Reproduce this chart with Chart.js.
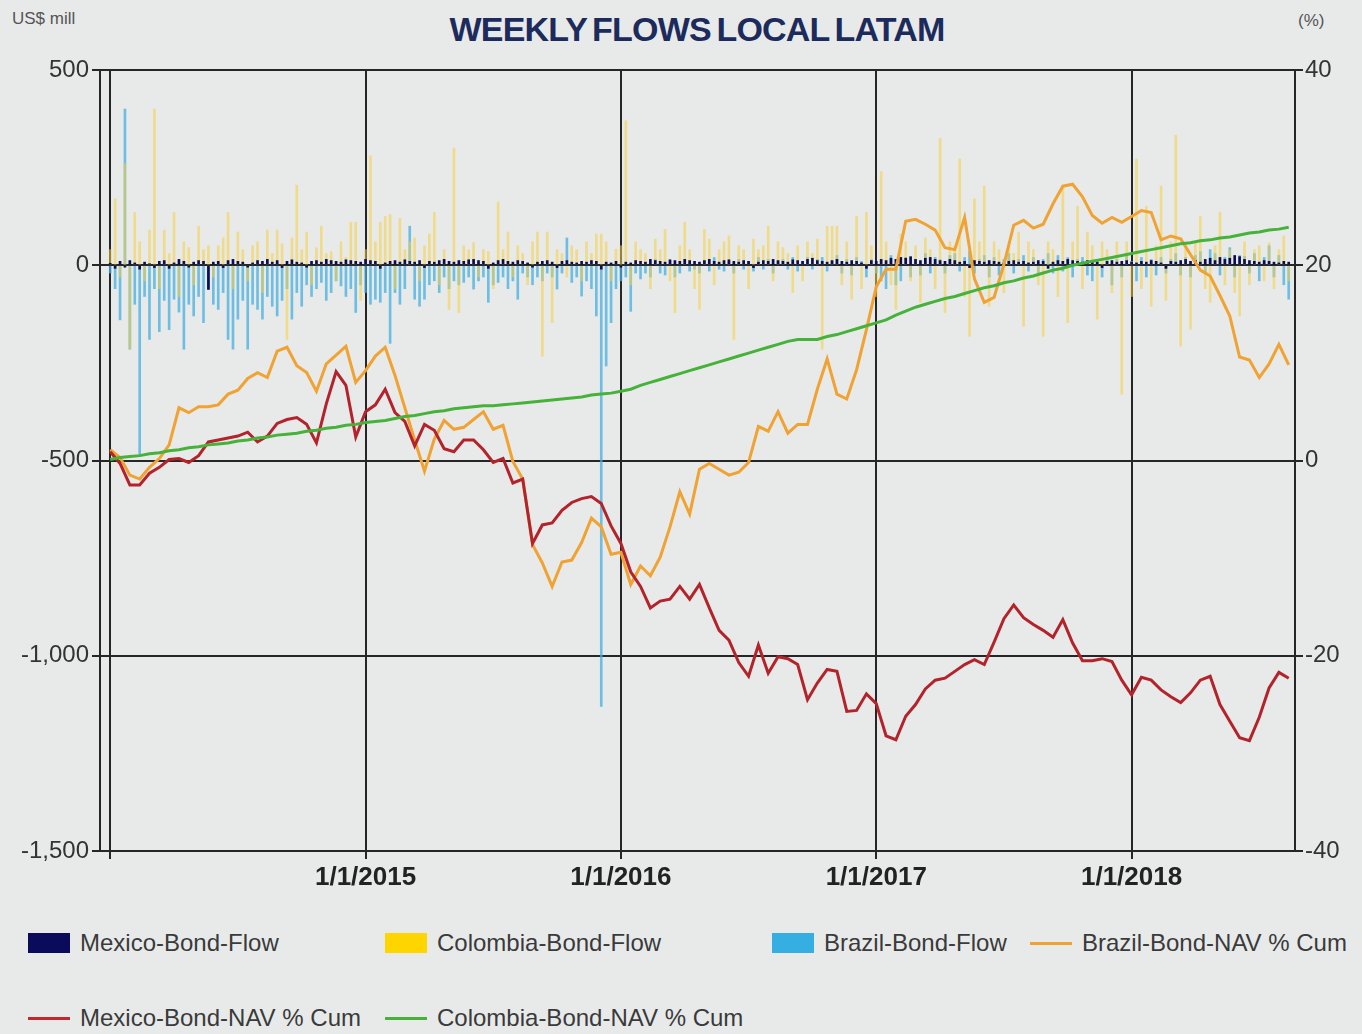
<!DOCTYPE html>
<html>
<head>
<meta charset="utf-8">
<title>Weekly Flows Local LATAM</title>
<script src="https://cdn.jsdelivr.net/npm/chart.js@4.4.0/dist/chart.umd.min.js"></script>
<style>
  body { margin: 0; background: #e8eaea; width: 1362px; height: 1034px; overflow: hidden;
         font-family: 'Liberation Sans', Arial, sans-serif; position: relative; }
  #chart { position: absolute; left: 0; top: 0; }
  #title { position: absolute; top: 10px; left: 0; width: 1394px; text-align: center;
           font-weight: bold; font-size: 34px; color: #1d2b5c; letter-spacing: -0.8px; word-spacing: -3px; }
  .unit { position: absolute; font-size: 17px; color: #555; }
  .leg { position: absolute; height: 26px; display: flex; align-items: center; font-size: 24px; color: #3a3a3a; white-space: nowrap; }
  .leg .box { width: 42px; height: 20px; margin-right: 10px; }
  .leg .line { width: 42px; height: 3px; margin-right: 10px; }
</style>
</head>
<body>
<div id="title">WEEKLY FLOWS LOCAL LATAM</div>
<div class="unit" style="left:12px; top:9px;">US$ mill</div>
<div class="unit" style="left:1298px; top:11px;">(%)</div>
<canvas id="chart" width="1362" height="900"></canvas>
<div id="legend"></div>
<script>
// weekly flows (US$ mill), one value per week starting Jan 2014
const mexicoFlow = [
  5, -8, 10, -5, 12, 6, -10, 8, 4, -6,
  10, 12, -8, 6, 15, 10, -5, 8, 12, 10,
  -62, 8, 10, -6, 12, 15, 10, 8, -5, 6,
  12, 10, 15, 8, 12, -6, 10, 14, 8, 6,
  -5, 10, 12, 8, 15, 12, 10, 8, 14, 12,
  10, 8, 15, 12, 10, -8, 6, 10, 12, 8,
  14, 10, 8, 12, -6, 10, 8, 12, 15, 10,
  8, 12, 10, 14, 15, 12, 10, -8, 6, 12,
  15, 10, 8, 12, 10, 6, -5, 8, 10, 12,
  8, -6, 10, 12, 8, 6, 10, 8, 12, 10,
  -10, 8, 6, 10, -5, 8, 6, 12, 10, 8,
  15, 12, 10, 8, 14, 12, 10, 15, 12, 10,
  8, 12, 15, 10, 8, 12, 14, 10, 8, 12,
  10, -6, 8, 12, 10, 15, 12, 10, 8, 14,
  12, 10, 15, 18, 12, 10, 8, 12, 15, 10,
  8, 12, 10, 6, -8, 12, 10, 15, 12, 18,
  15, 20, 18, 22, 15, 12, 18, 20, 15, 12,
  10, 15, 12, 8, 10, -6, 12, 10, 8, 12,
  10, 8, 6, 10, 12, 8, 10, 6, 8, 12,
  10, -8, 8, 12, 10, 15, 12, 10, 8, 12,
  10, 8, -6, 10, 12, 8, 10, 12, 8, 6,
  10, 8, 12, 10, 6, -8, 10, 8, 12, 15,
  10, 12, 8, 15, 18, 12, 20, 15, 18, 25,
  22, 15, 12, 10, 8, 12, 10, 8, 6, 10, 8
];
const colombiaFlow = [
  40, 170, -30, 260, -215, 135, 60, -40, 90, 400,
  -60, 90, 30, 135, -80, 60, 45, -50, 100, 40,
  50, -30, 50, 70, 135, -60, 85, 40, -40, 50,
  60, -70, 90, 30, 90, 55, -190, 70, 205, 40,
  85, -50, 45, 100, 30, 35, -40, 60, 20, 110,
  110, -90, 40, 280, 60, 110, 125, 130, -60, 120,
  40, 60, 70, -40, 50, 80, 135, -50, 40, -113,
  300, -121, 50, 40, 58, -30, 40, 35, -60, 162,
  40, 85, -30, 50, 30, -50, 60, 85, -233, 85,
  -147, 40, 30, -30, 50, 40, -40, 60, 30, 80,
  80, 60, -40, 41, 50, 370, -50, 60, 40, 30,
  -60, 67, 40, 92, -40, -121, 50, 110, 40, -60,
  -113, 92, 67, -50, 40, 60, 75, -190, 50, 40,
  -60, 67, 40, 50, 100, -40, 60, 45, 30, -70,
  50, -40, 60, 30, 67, -215, 100, 100, 100, -50,
  60, -87, 126, -60, 136, 50, -80, 240, 60, -50,
  -113, 80, 60, -40, 50, -95, 70, 40, -60, 325,
  -121, 60, 50, 272, -80, -182, 170, 60, 203, -105,
  60, 40, -70, 50, 30, 85, -156, 60, 40, -50,
  -182, 60, 40, -80, 203, -147, 60, 151, -60, 85,
  50, -138, 60, 40, -70, 60, -330, 60, -80, 272,
  -60, 151, -105, 50, 203, -90, 60, 333, -207, 50,
  -164, 60, 126, -60, -95, 50, 136, -50, 40, -70,
  -130, 60, -50, 40, 50, -40, 58, -60, 40, 75, -40
];
const brazilFlow = [
  -20, -60, -140, 400, -215, -100, -490, -80, -190, -60,
  -170, -90, -165, -87, -120, -215, -100, -130, -80, -147,
  -60, -100, -113, -70, -190, -215, -138, -90, -215, -100,
  -113, -138, -80, -105, -130, -90, -60, -138, -70, -105,
  -50, -80, -60, -44, -90, -70, -40, -53, -80, -60,
  -121, -50, -70, -100, -87, -95, -70, -200, -70, -100,
  -60, 100, -87, -105, -87, -50, -40, -70, -30, -60,
  -40, -50, -44, -30, -61, -40, -30, -95, -50, -44,
  -30, -60, -40, -87, -20, -30, -50, -30, -40, -20,
  -30, -61, -20, 70, -44, -30, -79, -40, -60, -130,
  -1130, -258, -147, -60, -40, -30, -118, -20, -35, -20,
  -30, 15, -20, -25, 10, -30, -20, 15, -15, -10,
  -20, 10, -15, 20, -10, -15, 10, -20, 15, -10,
  10, -15, 20, -10, 15, -20, 10, 15, -10, 20,
  -15, 10, 20, -10, 15, 20, -15, 10, 25, -20,
  15, -25, 20, 10, -30, 15, -20, -40, -60, 25,
  -50, -40, 20, -30, 15, -25, 30, -20, 20, 15,
  -20, 25, 30, -15, 20, 35, -20, 15, 25, -30,
  20, -25, 15, 30, -20, 15, 25, -15, 20, -25,
  15, 30, -20, 25, -15, 20, -30, 15, 20, -25,
  -40, 15, -30, 20, -50, 15, -30, 25, 10, -40,
  20, -30, 15, -25, 20, -20, 15, 30, -25, 20,
  -30, 25, 35, -20, 40, 30, -25, 20, 45, -30,
  25, 23, -20, 30, -40, 20, 50, -30, 25, -50, -87
];

// cumulative NAV change (%), one value every two weeks starting Jan 2014
const brazilNav = [
  1.1, 0.3, -1.5, -1.9, -0.7, 0.2, 1.6, 5.4, 4.9, 5.5,
  5.5, 5.7, 6.8, 7.2, 8.4, 9.0, 8.5, 11.2, 11.6, 9.7,
  9.0, 7.1, 9.9, 10.8, 11.7, 8.0, 9.2, 10.7, 11.6, 8.7,
  5.4, 2.1, -1.1, 2.2, 4.1, 3.2, 3.4, 4.2, 5.0, 3.2,
  3.6, -0.1, -1.9, -8.6, -10.5, -12.9, -10.4, -10.2, -8.4, -5.9,
  -6.8, -9.6, -9.4, -12.7, -10.8, -11.8, -9.9, -6.8, -3.2, -5.5,
  -0.9, -0.3, -0.9, -1.5, -1.2, -0.2, 3.5, 3.0, 5.0, 2.8,
  3.7, 3.7, 7.3, 10.4, 6.8, 6.3, 9.3, 13.4, 17.8, 19.6,
  19.6, 24.5, 24.7, 24.2, 23.6, 21.8, 21.6, 24.9, 18.6, 16.2,
  16.7, 20.1, 24.1, 24.6, 23.8, 24.2, 26.3, 28.1, 28.3, 27.0,
  25.1, 24.3, 24.9, 24.4, 25.0, 25.6, 25.4, 22.6, 23.0, 22.7,
  21.1, 19.5, 18.9, 16.9, 14.8, 10.6, 10.3, 8.5, 9.9, 11.9,
  9.8
];
const mexicoNav = [
  0.9, -0.3, -2.5, -2.5, -1.3, -0.7, 0.1, 0.2, -0.2, 0.5,
  1.9, 2.1, 2.3, 2.5, 2.9, 1.9, 2.5, 3.8, 4.2, 4.4,
  3.7, 1.8, 5.8, 9.1, 7.7, 2.4, 5.0, 5.7, 7.3, 4.9,
  4.0, 1.5, 3.7, 3.1, 1.2, 0.9, 2.1, 2.1, 1.1, -0.2,
  0.2, -2.3, -1.9, -8.5, -6.6, -6.4, -5.1, -4.3, -3.9, -3.7,
  -4.4, -6.7, -8.5, -11.4, -12.9, -15.1, -14.4, -14.2, -12.9, -14.2,
  -12.7, -15.1, -17.4, -18.4, -20.7, -22.1, -18.9, -21.8, -20.1, -20.3,
  -20.9, -24.5, -22.8, -21.4, -21.6, -25.7, -25.6, -23.9, -24.9, -28.2,
  -28.6, -26.2, -25.0, -23.4, -22.5, -22.3, -21.6, -20.9, -20.4, -20.9,
  -18.6, -16.2, -14.8, -16.1, -16.8, -17.4, -18.1, -16.3, -18.7, -20.5,
  -20.5, -20.3, -20.6, -22.5, -24.0, -22.2, -22.5, -23.5, -24.2, -24.8,
  -23.8, -22.5, -22.1, -25.0, -26.7, -28.4, -28.7, -26.3, -23.3, -21.7,
  -22.3
];
const colombiaNav = [
  0.1, 0.3, 0.4, 0.5, 0.7, 0.8, 1.0, 1.1, 1.3, 1.4,
  1.6, 1.7, 1.8, 2.0, 2.1, 2.3, 2.4, 2.6, 2.7, 2.8,
  3.0, 3.1, 3.3, 3.4, 3.6, 3.7, 3.9, 4.0, 4.1, 4.3,
  4.5, 4.6, 4.8, 5.0, 5.1, 5.3, 5.4, 5.5, 5.6, 5.6,
  5.7, 5.8, 5.9, 6.0, 6.1, 6.2, 6.3, 6.4, 6.5, 6.7,
  6.8, 6.9, 7.1, 7.3, 7.7, 8.0, 8.3, 8.6, 8.9, 9.2,
  9.5, 9.8, 10.1, 10.4, 10.7, 11.0, 11.3, 11.6, 11.9, 12.2,
  12.4, 12.4, 12.4, 12.7, 12.9, 13.2, 13.5, 13.8, 14.1, 14.4,
  14.9, 15.3, 15.7, 16.0, 16.3, 16.6, 16.8, 17.1, 17.4, 17.7,
  17.9, 18.2, 18.4, 18.7, 18.9, 19.2, 19.5, 19.7, 20.0, 20.2,
  20.4, 20.6, 20.8, 21.0, 21.2, 21.4, 21.6, 21.8, 22.0, 22.2,
  22.3, 22.5, 22.6, 22.8, 22.9, 23.1, 23.3, 23.4, 23.6, 23.7,
  23.9
];

// x axis ticks (years), first one has no label
const tickYears = [2014, 2015, 2016, 2017, 2018];
const tickLabels = ['', '1/1/2015', '1/1/2016', '1/1/2017', '1/1/2018'];

const startYear = 2014;
const weekX = i => startYear + i / 52;
const fortnightX = i => startYear + i / 26;
const toPoints = (arr, fx) => arr.map((v, i) => ({ x: fx(i), y: v }));

const gridColor = '#262626';
const tickFont = { family: "'Liberation Sans', Arial, sans-serif", size: 24 };

const datasets = [
  { type: 'bar', label: 'Mexico-Bond-Flow', data: toPoints(mexicoFlow, weekX),
    backgroundColor: '#0c0c50', legendColor: '#0b0b5c', barThickness: 2, grouped: false, yAxisID: 'y', order: 4 },
  { type: 'bar', label: 'Colombia-Bond-Flow', data: toPoints(colombiaFlow, weekX),
    backgroundColor: 'rgba(245,205,60,0.55)', legendColor: '#ffd500', barThickness: 2, grouped: false, yAxisID: 'y', order: 5 },
  { type: 'bar', label: 'Brazil-Bond-Flow', data: toPoints(brazilFlow, weekX),
    backgroundColor: 'rgba(70,175,225,0.75)', legendColor: '#35aee2', barThickness: 2, grouped: false, yAxisID: 'y', order: 6 },
  { type: 'line', label: 'Brazil-Bond-NAV % Cum', data: toPoints(brazilNav, fortnightX),
    borderColor: '#f0a232', legendColor: '#f0a232', borderWidth: 3, pointRadius: 0, tension: 0, yAxisID: 'y1', order: 3 },
  { type: 'line', label: 'Mexico-Bond-NAV % Cum', data: toPoints(mexicoNav, fortnightX),
    borderColor: '#b3232b', legendColor: '#c0282e', borderWidth: 3, pointRadius: 0, tension: 0, yAxisID: 'y1', order: 2 },
  { type: 'line', label: 'Colombia-Bond-NAV % Cum', data: toPoints(colombiaNav, fortnightX),
    borderColor: '#46b23a', legendColor: '#46b23a', borderWidth: 3, pointRadius: 0, tension: 0, yAxisID: 'y1', order: 1 }
];

new Chart(document.getElementById('chart'), {
  type: 'bar',
  data: { datasets: datasets },
  options: {
    responsive: false,
    animation: false,
    devicePixelRatio: 1,
    layout: { padding: { top: 70, left: 0, right: 0, bottom: 0 } },
    plugins: { legend: { display: false }, tooltip: { enabled: false } },
    scales: {
      x: {
        type: 'linear', min: 2013.96, max: 2018.64, offset: false,
        afterBuildTicks: s => { s.ticks = tickYears.map(v => ({ value: v })); },
        afterFit: s => { s.height = 49; },
        ticks: {
          autoSkip: false, maxRotation: 0, padding: 3, color: '#222',
          font: { family: tickFont.family, size: 26, weight: 'bold' },
          callback: v => tickLabels[tickYears.indexOf(v)]
        },
        grid: { offset: false, color: gridColor, lineWidth: 2, tickLength: 8 },
        border: { display: true, color: gridColor, width: 2 }
      },
      y: {
        position: 'left', min: -1500, max: 500,
        afterBuildTicks: s => { s.ticks = [-1500, -1000, -500, 0, 500].map(v => ({ value: v })); },
        afterFit: s => { s.width = 100; },
        ticks: { padding: 3, color: '#333', font: tickFont, callback: v => v.toLocaleString('en-US') },
        grid: { color: gridColor, lineWidth: 2, tickLength: 8 },
        border: { display: true, color: gridColor, width: 2 }
      },
      y1: {
        position: 'right', min: -40, max: 40,
        afterBuildTicks: s => { s.ticks = [-40, -20, 0, 20, 40].map(v => ({ value: v })); },
        afterFit: s => { s.width = 67; },
        ticks: { padding: 2, color: '#333', font: tickFont },
        grid: { drawOnChartArea: false, color: gridColor, lineWidth: 2, tickLength: 8 },
        border: { display: true, color: gridColor, width: 2 }
      }
    }
  }
});

// legend laid out like the original: two rows, fixed columns
const legendPos = [
  { left: 28, top: 930 }, { left: 385, top: 930 }, { left: 772, top: 930 }, { left: 1030, top: 930 },
  { left: 28, top: 1005 }, { left: 385, top: 1005 }
];
const legend = document.getElementById('legend');
datasets.forEach((ds, i) => {
  const item = document.createElement('div');
  item.className = 'leg';
  item.style.left = legendPos[i].left + 'px';
  item.style.top = legendPos[i].top + 'px';
  const sw = document.createElement('span');
  sw.className = ds.type === 'bar' ? 'box' : 'line';
  sw.style.background = ds.legendColor;
  item.appendChild(sw);
  item.appendChild(document.createTextNode(ds.label));
  legend.appendChild(item);
});
</script>
</body>
</html>
